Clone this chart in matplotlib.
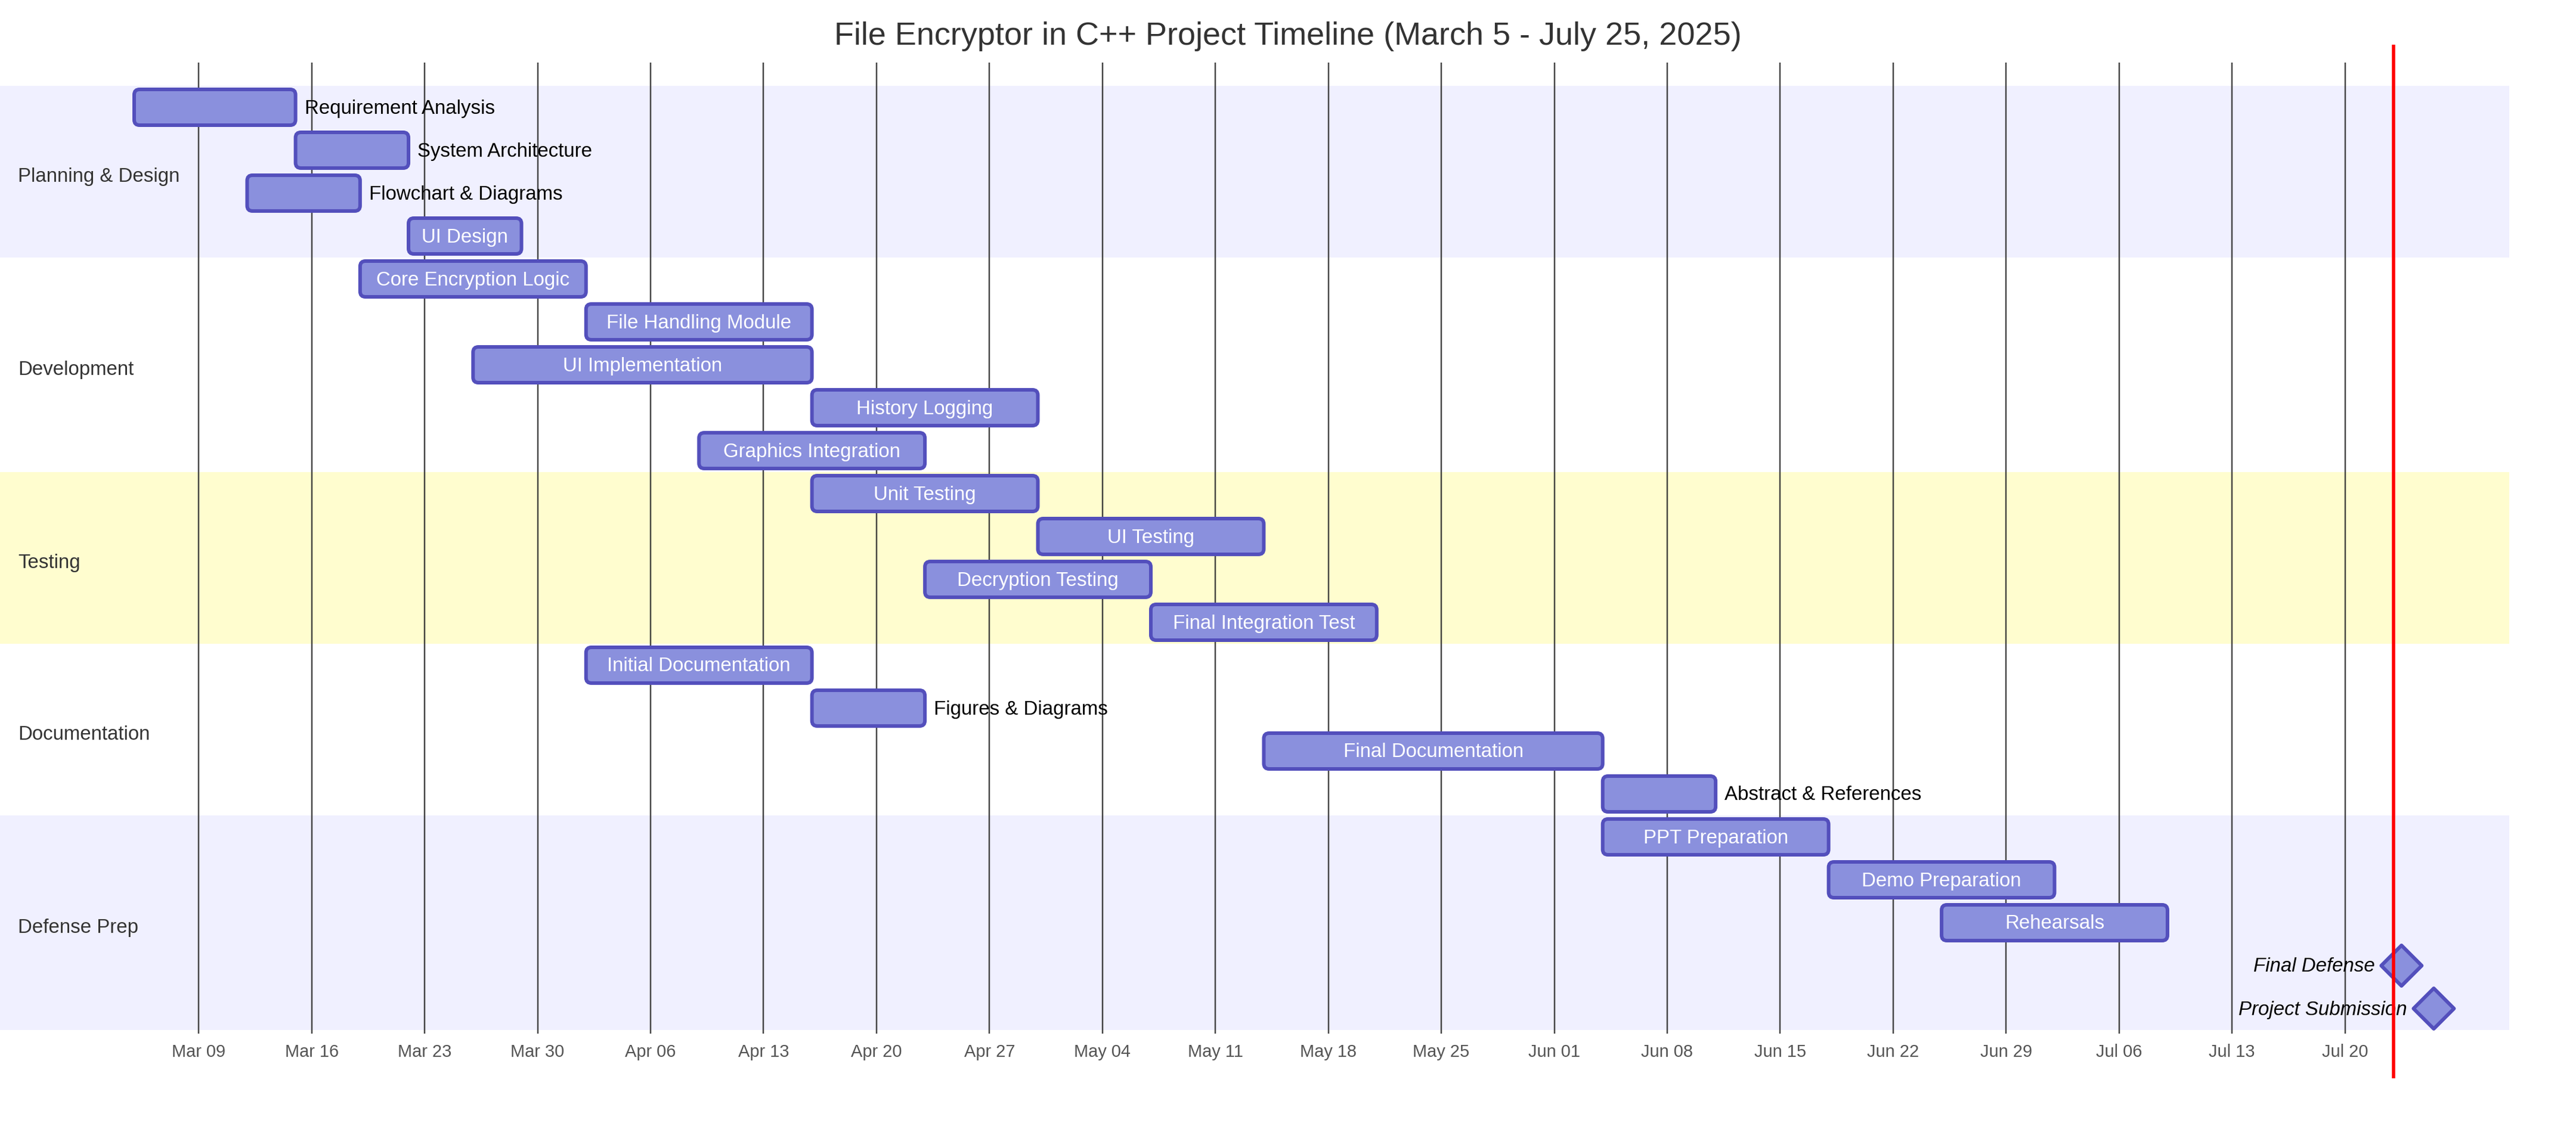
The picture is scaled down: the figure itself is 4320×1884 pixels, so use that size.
import matplotlib
matplotlib.use("Agg")
import matplotlib.pyplot as plt
import matplotlib.dates as mdates
from matplotlib.patches import FancyBboxPatch, Polygon
import pandas as pd

plt.rcParams["font.family"] = ["Liberation Sans", "DejaVu Sans"]

# ---------------- data ----------------
title = "File Encryptor in C++ Project Timeline (March 5 - July 25, 2025)"
sections = ["Planning & Design", "Development", "Testing", "Documentation", "Defense Prep"]

task_names = [
    "Requirement Analysis", "System Architecture", "Flowchart & Diagrams", "UI Design",
    "Core Encryption Logic", "File Handling Module", "UI Implementation", "History Logging",
    "Graphics Integration",
    "Unit Testing", "UI Testing", "Decryption Testing", "Final Integration Test",
    "Initial Documentation", "Figures & Diagrams", "Final Documentation", "Abstract & References",
    "PPT Preparation", "Demo Preparation", "Rehearsals", "Final Defense", "Project Submission",
]
task_section = [0, 0, 0, 0,
                1, 1, 1, 1, 1,
                2, 2, 2, 2,
                3, 3, 3, 3,
                4, 4, 4, 4, 4]
task_start = [
    "2025-03-05", "2025-03-15", "2025-03-12", "2025-03-22",
    "2025-03-19", "2025-04-02", "2025-03-26", "2025-04-16", "2025-04-09",
    "2025-04-16", "2025-04-30", "2025-04-23", "2025-05-07",
    "2025-04-02", "2025-04-16", "2025-05-14", "2025-06-04",
    "2025-06-04", "2025-06-18", "2025-06-25", "2025-07-23", "2025-07-25",
]
task_end = [
    "2025-03-15", "2025-03-22", "2025-03-19", "2025-03-29",
    "2025-04-02", "2025-04-16", "2025-04-16", "2025-04-30", "2025-04-23",
    "2025-04-30", "2025-05-14", "2025-05-07", "2025-05-21",
    "2025-04-16", "2025-04-23", "2025-06-04", "2025-06-11",
    "2025-06-18", "2025-07-02", "2025-07-09", "2025-07-24", "2025-07-26",
]
task_milestone = [False] * 20 + [True, True]
today = "2025-07-23"

# ---------------- layout (pixels) ----------------
W, H = 4320, 1884
S = 3
LEFT_PAD = 75 * S
RIGHT_PAD = 75 * S
TOP_PAD = 50 * S
GAP = 24 * S
BAR_H = 20 * S
GRID_TOP = 35 * S
n_rows = len(task_names)
h_m = n_rows * GAP + 2 * TOP_PAD
AXIS_Y = h_m - 50 * S

band_colors = ["#F0F0FF", "#FFFFFF", "#FFFDCF", "#FFFFFF"]
bar_fill = "#8A90DD"
bar_edge = "#534FBC"
PT = 0.72  # px -> pt at dpi 100

starts = mdates.date2num(pd.to_datetime(task_start))
ends = mdates.date2num(pd.to_datetime(task_end))
d0 = starts.min()
d1 = ends.max()
ppd = (W - LEFT_PAD - RIGHT_PAD) / (d1 - d0)  # pixels per day

fig = plt.figure(figsize=(W / 100, H / 100), dpi=100)
ax = fig.add_axes([0, 0, 1, 1])
x_left = d0 - LEFT_PAD / ppd
ax.set_xlim(x_left, d0 + (W - LEFT_PAD) / ppd)
ax.set_ylim(H, 0)
ax.axis("off")


def px_to_x(px):
    return x_left + px / ppd


# section bands (one per row)
for i in range(n_rows):
    y0 = TOP_PAD - 2 * S + i * GAP
    ax.axhspan(y0, y0 + GAP, xmin=0, xmax=(W - RIGHT_PAD / 2) / W,
               color=band_colors[task_section[i] % 4], lw=0, zorder=0)

# grid + tick labels
locator = mdates.WeekdayLocator(byweekday=mdates.SU)
ticks = [t for t in locator.tick_values(mdates.num2date(d0), mdates.num2date(d1)) if d0 <= t <= d1]
ax.vlines(ticks, GRID_TOP, AXIS_Y, colors="#333333", alpha=0.9, lw=2.5 * PT, zorder=1)
for t in ticks:
    ax.text(t, AXIS_Y + 39, mdates.num2date(t).strftime("%b %d"), ha="center", va="baseline",
            fontsize=29 * PT, color="#555555", zorder=3)

# section titles
counts = [task_section.count(k) for k in range(len(sections))]
prev = 0
for k, name in enumerate(sections):
    yc = TOP_PAD + (prev + counts[k] / 2) * GAP
    ax.text(px_to_x(10 * S), yc + 11, name, ha="left", va="baseline", fontsize=33 * PT,
            color="#333333", zorder=3)
    prev += counts[k]

renderer = fig.canvas.get_renderer()

# tasks
for i, name in enumerate(task_names):
    s, e = starts[i], ends[i]
    y0 = TOP_PAD + i * GAP
    yc = y0 + BAR_H / 2
    if task_milestone[i]:
        cx = s + 0.5 * (e - s)
        hd = 34
        poly = Polygon([(cx - hd / ppd, yc), (cx, yc - hd), (cx + hd / ppd, yc), (cx, yc + hd)],
                       closed=True, facecolor=bar_fill, edgecolor=bar_edge, lw=6 * PT,
                       joinstyle="round", zorder=2)
        ax.add_patch(poly)
        sx = cx - (BAR_H / 2) / ppd
        ex = cx + (BAR_H / 2) / ppd
        style = "italic"
    else:
        box = FancyBboxPatch((s, y0), e - s, BAR_H,
                             boxstyle=f"round,pad=0,rounding_size={3 * S / ppd}",
                             mutation_aspect=ppd, facecolor=bar_fill, edgecolor=bar_edge,
                             lw=6 * PT, zorder=2)
        ax.add_patch(box)
        sx, ex = s, e
        style = "normal"
    ty = yc + (11 / 2 - 2) * S
    t = ax.text((sx + ex) / 2, ty, name, ha="center", va="baseline", fontsize=33 * PT,
                style=style, color="white", zorder=3)
    tw = t.get_window_extent(renderer).width
    bw = (ex - sx) * ppd
    if tw > bw:
        if (ex - x_left) * ppd + tw + 1.5 * LEFT_PAD > W:
            t.set_x(sx - 5 * S / ppd)
            t.set_ha("right")
        else:
            t.set_x(ex + 5 * S / ppd)
            t.set_ha("left")
        t.set_color("black")

# today marker
tday = mdates.date2num(pd.Timestamp(today))
ax.vlines([tday], 25 * S, h_m - 25 * S, colors="#FF0000", lw=5.5 * PT, zorder=4)

# title
ax.text(px_to_x(W / 2), 25 * S, title, ha="center", va="baseline",
        fontsize=54 * PT, color="#333333", zorder=5)

fig.savefig("out.png", dpi=100, facecolor="white")
